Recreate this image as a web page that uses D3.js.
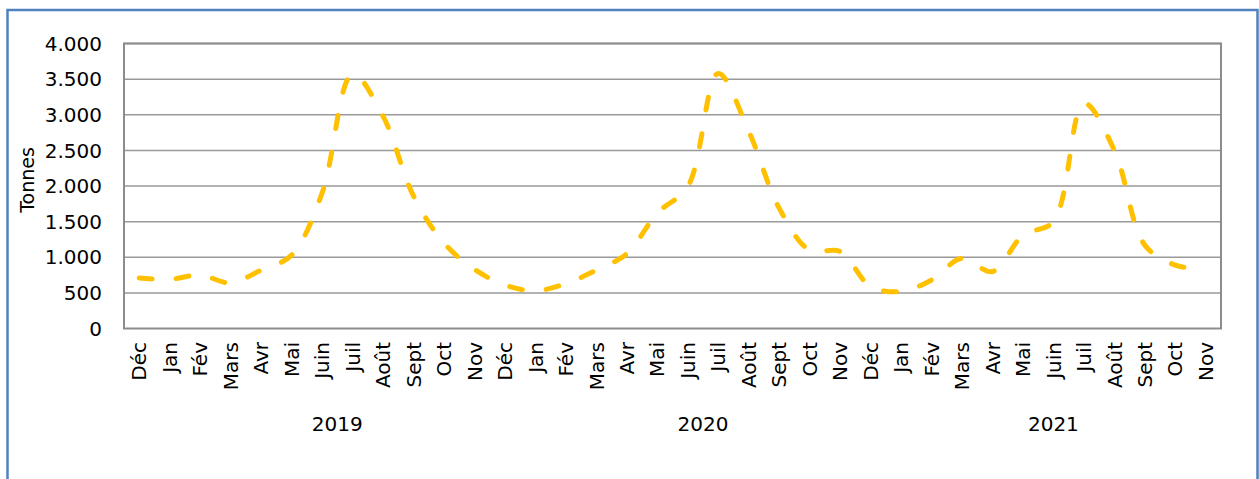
<!DOCTYPE html>
<html>
<head>
<meta charset="utf-8">
<script src="https://cdn.jsdelivr.net/npm/d3@7"></script>
<style>
  body { margin: 0; background: #fff; }
  svg { display: block; }
</style>
</head>
<body>
<svg id="chart" width="1259" height="479"></svg>
<script>
// months, Déc 2018 -> Nov 2021
const months = ['Déc', 'Jan', 'Fév', 'Mars', 'Avr', 'Mai', 'Juin', 'Juil', 'Août', 'Sept', 'Oct', 'Nov',
  'Déc', 'Jan', 'Fév', 'Mars', 'Avr', 'Mai', 'Juin', 'Juil', 'Août', 'Sept', 'Oct', 'Nov',
  'Déc', 'Jan', 'Fév', 'Mars', 'Avr', 'Mai', 'Juin', 'Juil', 'Août', 'Sept', 'Oct', 'Nov']
const tonnes = [710, 690, 750, 640, 820, 1030, 1900, 3570, 2980, 1860, 1200, 830,
  610, 530, 630, 820, 1050, 1620, 1990, 3580, 2770, 1690, 1100, 1080,
  590, 520, 680, 985, 800, 1310, 1500, 3160, 2500, 1170, 890, 830]
// year groups: label, first and last month index
const years = [['2019', 1, 12], ['2020', 13, 24], ['2021', 25, 35]]
const yTicks = [0, 500, 1000, 1500, 2000, 2500, 3000, 3500, 4000]

const margin = { left: 124, top: 43.5, right: 1221, bottom: 328.5 }
const svg = d3.select('#chart')
const font = 'DejaVu Sans, sans-serif'

// outer frame
svg.append('path')
  .attr('d', 'M7.5,490 V10 H1257.5 V490')
  .attr('fill', 'none')
  .attr('stroke', '#4F81BD')
  .attr('stroke-width', 2.5)

const x = d3.scaleBand()
  .domain(d3.range(months.length))
  .range([margin.left, margin.right])
const y = d3.scaleLinear()
  .domain([0, 4000])
  .range([margin.bottom, margin.top])

const fmt = v => d3.format(',')(v).replace(/,/g, '.')

// gridlines
svg.append('g')
  .selectAll('line')
  .data(yTicks.slice(1))
  .join('line')
  .attr('x1', margin.left).attr('x2', margin.right)
  .attr('y1', d => y(d)).attr('y2', d => y(d))
  .attr('stroke', '#999').attr('stroke-width', 1.5)

// plot frame
svg.append('rect')
  .attr('x', margin.left).attr('y', margin.top)
  .attr('width', margin.right - margin.left)
  .attr('height', margin.bottom - margin.top)
  .attr('fill', 'none')
  .attr('stroke', '#8c8c8c')
  .attr('stroke-width', 2)

// y tick labels
svg.append('g')
  .selectAll('text')
  .data(yTicks)
  .join('text')
  .attr('x', 102)
  .attr('y', d => y(d))
  .attr('dy', '0.36em')
  .attr('text-anchor', 'end')
  .attr('font-family', font)
  .attr('font-size', 20)
  .attr('fill', '#000')
  .text(fmt)

// y title
svg.append('text')
  .attr('transform', 'translate(34,180) rotate(-90)')
  .attr('text-anchor', 'middle')
  .attr('font-family', font)
  .attr('font-size', 19)
  .text('Tonnes')

// month labels
svg.append('g')
  .selectAll('text')
  .data(months)
  .join('text')
  .attr('transform', (d, i) => `translate(${x(i) + x.bandwidth() / 2},342) rotate(-90)`)
  .attr('dy', '0.36em')
  .attr('text-anchor', 'end')
  .attr('font-family', font)
  .attr('font-size', 20)
  .text(d => d)

// year labels
svg.append('g')
  .selectAll('text')
  .data(years)
  .join('text')
  .attr('x', d => (x(d[1]) + x(d[2]) + x.bandwidth()) / 2)
  .attr('y', 431)
  .attr('text-anchor', 'middle')
  .attr('font-family', font)
  .attr('font-size', 20)
  .text(d => d[0])

// series
const line = d3.line()
  .x((d, i) => x(i) + x.bandwidth() / 2)
  .y(d => y(d))
  .curve(d3.curveCatmullRom.alpha(0.5))

svg.append('path')
  .datum(tonnes)
  .attr('d', line)
  .attr('fill', 'none')
  .attr('stroke', '#FFC000')
  .attr('stroke-width', 5)
  .attr('stroke-linecap', 'round')
  .attr('stroke-dasharray', '13,24')
</script>
</body>
</html>
